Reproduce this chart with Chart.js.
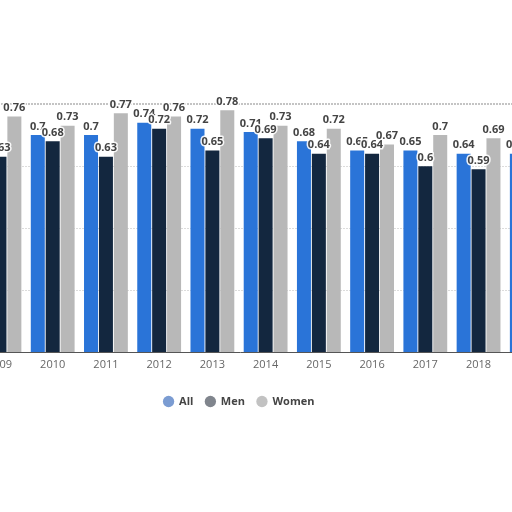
<!DOCTYPE html>
<html>
<head>
<meta charset="utf-8">
<script src="https://cdn.jsdelivr.net/npm/chart.js@4"></script>
<style>
  html, body { margin: 0; padding: 0; background: #fff; overflow: hidden; }
  body { width: 512px; height: 512px; position: relative; }
  /* the reference is a crop of a wider chart, so the canvas runs past the window */
  #wrap { position: absolute; left: -113px; top: 0; width: 704px; height: 512px; }
</style>
</head>
<body>
<div id="wrap"><canvas id="chart" width="704" height="512"></canvas></div>
<script>
// Valeurs (null = barre hors du cadre)
const years = [2009, 2010, 2011, 2012, 2013, 2014, 2015, 2016, 2017, 2018, 2019];
const allValues = [null, 0.7, 0.7, 0.74, 0.72, 0.71, 0.68, 0.65, 0.65, 0.64, 0.64];
const menValues = [0.63, 0.68, 0.63, 0.72, 0.65, 0.69, 0.64, 0.64, 0.6, 0.59, null];
const womenValues = [0.76, 0.73, 0.77, 0.76, 0.78, 0.73, 0.72, 0.67, 0.7, 0.69, null];
const seriesNames = ["All", "Men", "Women"];

const barColors = ["#2a74d8", "#13273f", "#b8b8b8"];
const legendColors = ["#7b9cd2", "#80858d", "#c2c2c2"];

Chart.defaults.font.family = "'Open Sans', sans-serif";

// Étiquettes de valeur au-dessus des barres
const valueLabels = {
  id: "valueLabels",
  afterDatasetsDraw(chart) {
    const ctx = chart.ctx;
    ctx.save();
    ctx.font = "bold 11px 'Open Sans', sans-serif";
    ctx.textAlign = "center";
    ctx.textBaseline = "bottom";
    ctx.lineJoin = "round";
    chart.data.datasets.forEach((ds, i) => {
      const meta = chart.getDatasetMeta(i);
      meta.data.forEach((bar, j) => {
        const v = ds.data[j];
        if (v === null) return;
        const txt = String(v);
        ctx.lineWidth = 3;
        ctx.strokeStyle = "rgba(255,255,255,0.9)";
        ctx.strokeText(txt, bar.x, bar.y - 3);
        ctx.fillStyle = "#444";
        ctx.fillText(txt, bar.x, bar.y - 3);
      });
    });
    ctx.restore();
  },
};

new Chart(document.getElementById("chart"), {
  type: "bar",
  data: {
    labels: years,
    datasets: [
      { label: seriesNames[0], data: allValues, backgroundColor: barColors[0] },
      { label: seriesNames[1], data: menValues, backgroundColor: barColors[1] },
      { label: seriesNames[2], data: womenValues, backgroundColor: barColors[2] },
    ],
  },
  options: {
    responsive: false,
    animation: false,
    layout: { padding: { top: 104, bottom: 95, left: 0, right: 0 } },
    datasets: {
      bar: { categoryPercentage: 0.84, barPercentage: 0.94, borderWidth: 0 },
    },
    scales: {
      x: {
        type: "linear",
        offset: false,
        min: 2007,
        max: 2007 + 691 / 53,
        afterFit: (s) => { s.height = 31.5; },
        ticks: {
          stepSize: 1,
          includeBounds: false,
          autoSkip: false,
          maxRotation: 0,
          padding: 6,
          color: "#666",
          font: { size: 11 },
          callback: (v) => (v >= 2009 && v <= 2019 ? String(v) : ""),
        },
        grid: { display: false, drawTicks: false, offset: false },
        border: { color: "#555", width: 1 },
      },
      y: {
        min: 0,
        max: 0.8,
        afterFit: (s) => { s.width = 0; },
        ticks: { display: false, stepSize: 0.2 },
        grid: {
          drawTicks: false,
          color: (c) => (c.tick && c.tick.value >= 0.8 ? "#c4c4c4" : "#dcdcdc"),
          lineWidth: (c) => (c.tick && c.tick.value >= 0.8 ? 2 : 1),
        },
        border: { display: false, dash: [2, 1] },
      },
    },
    plugins: {
      tooltip: { enabled: false },
      legend: {
        position: "bottom",
        labels: {
          usePointStyle: true,
          pointStyle: "circle",
          boxWidth: 10,
          boxHeight: 8,
          padding: 12,
          color: "#444",
          font: { size: 11, weight: "bold" },
          generateLabels: (chart) =>
            Chart.defaults.plugins.legend.labels.generateLabels(chart).map((item, i) => ({
              ...item,
              fillStyle: legendColors[i],
              strokeStyle: legendColors[i],
              lineWidth: 0,
            })),
        },
      },
    },
  },
  plugins: [valueLabels],
});
</script>
</body>
</html>
